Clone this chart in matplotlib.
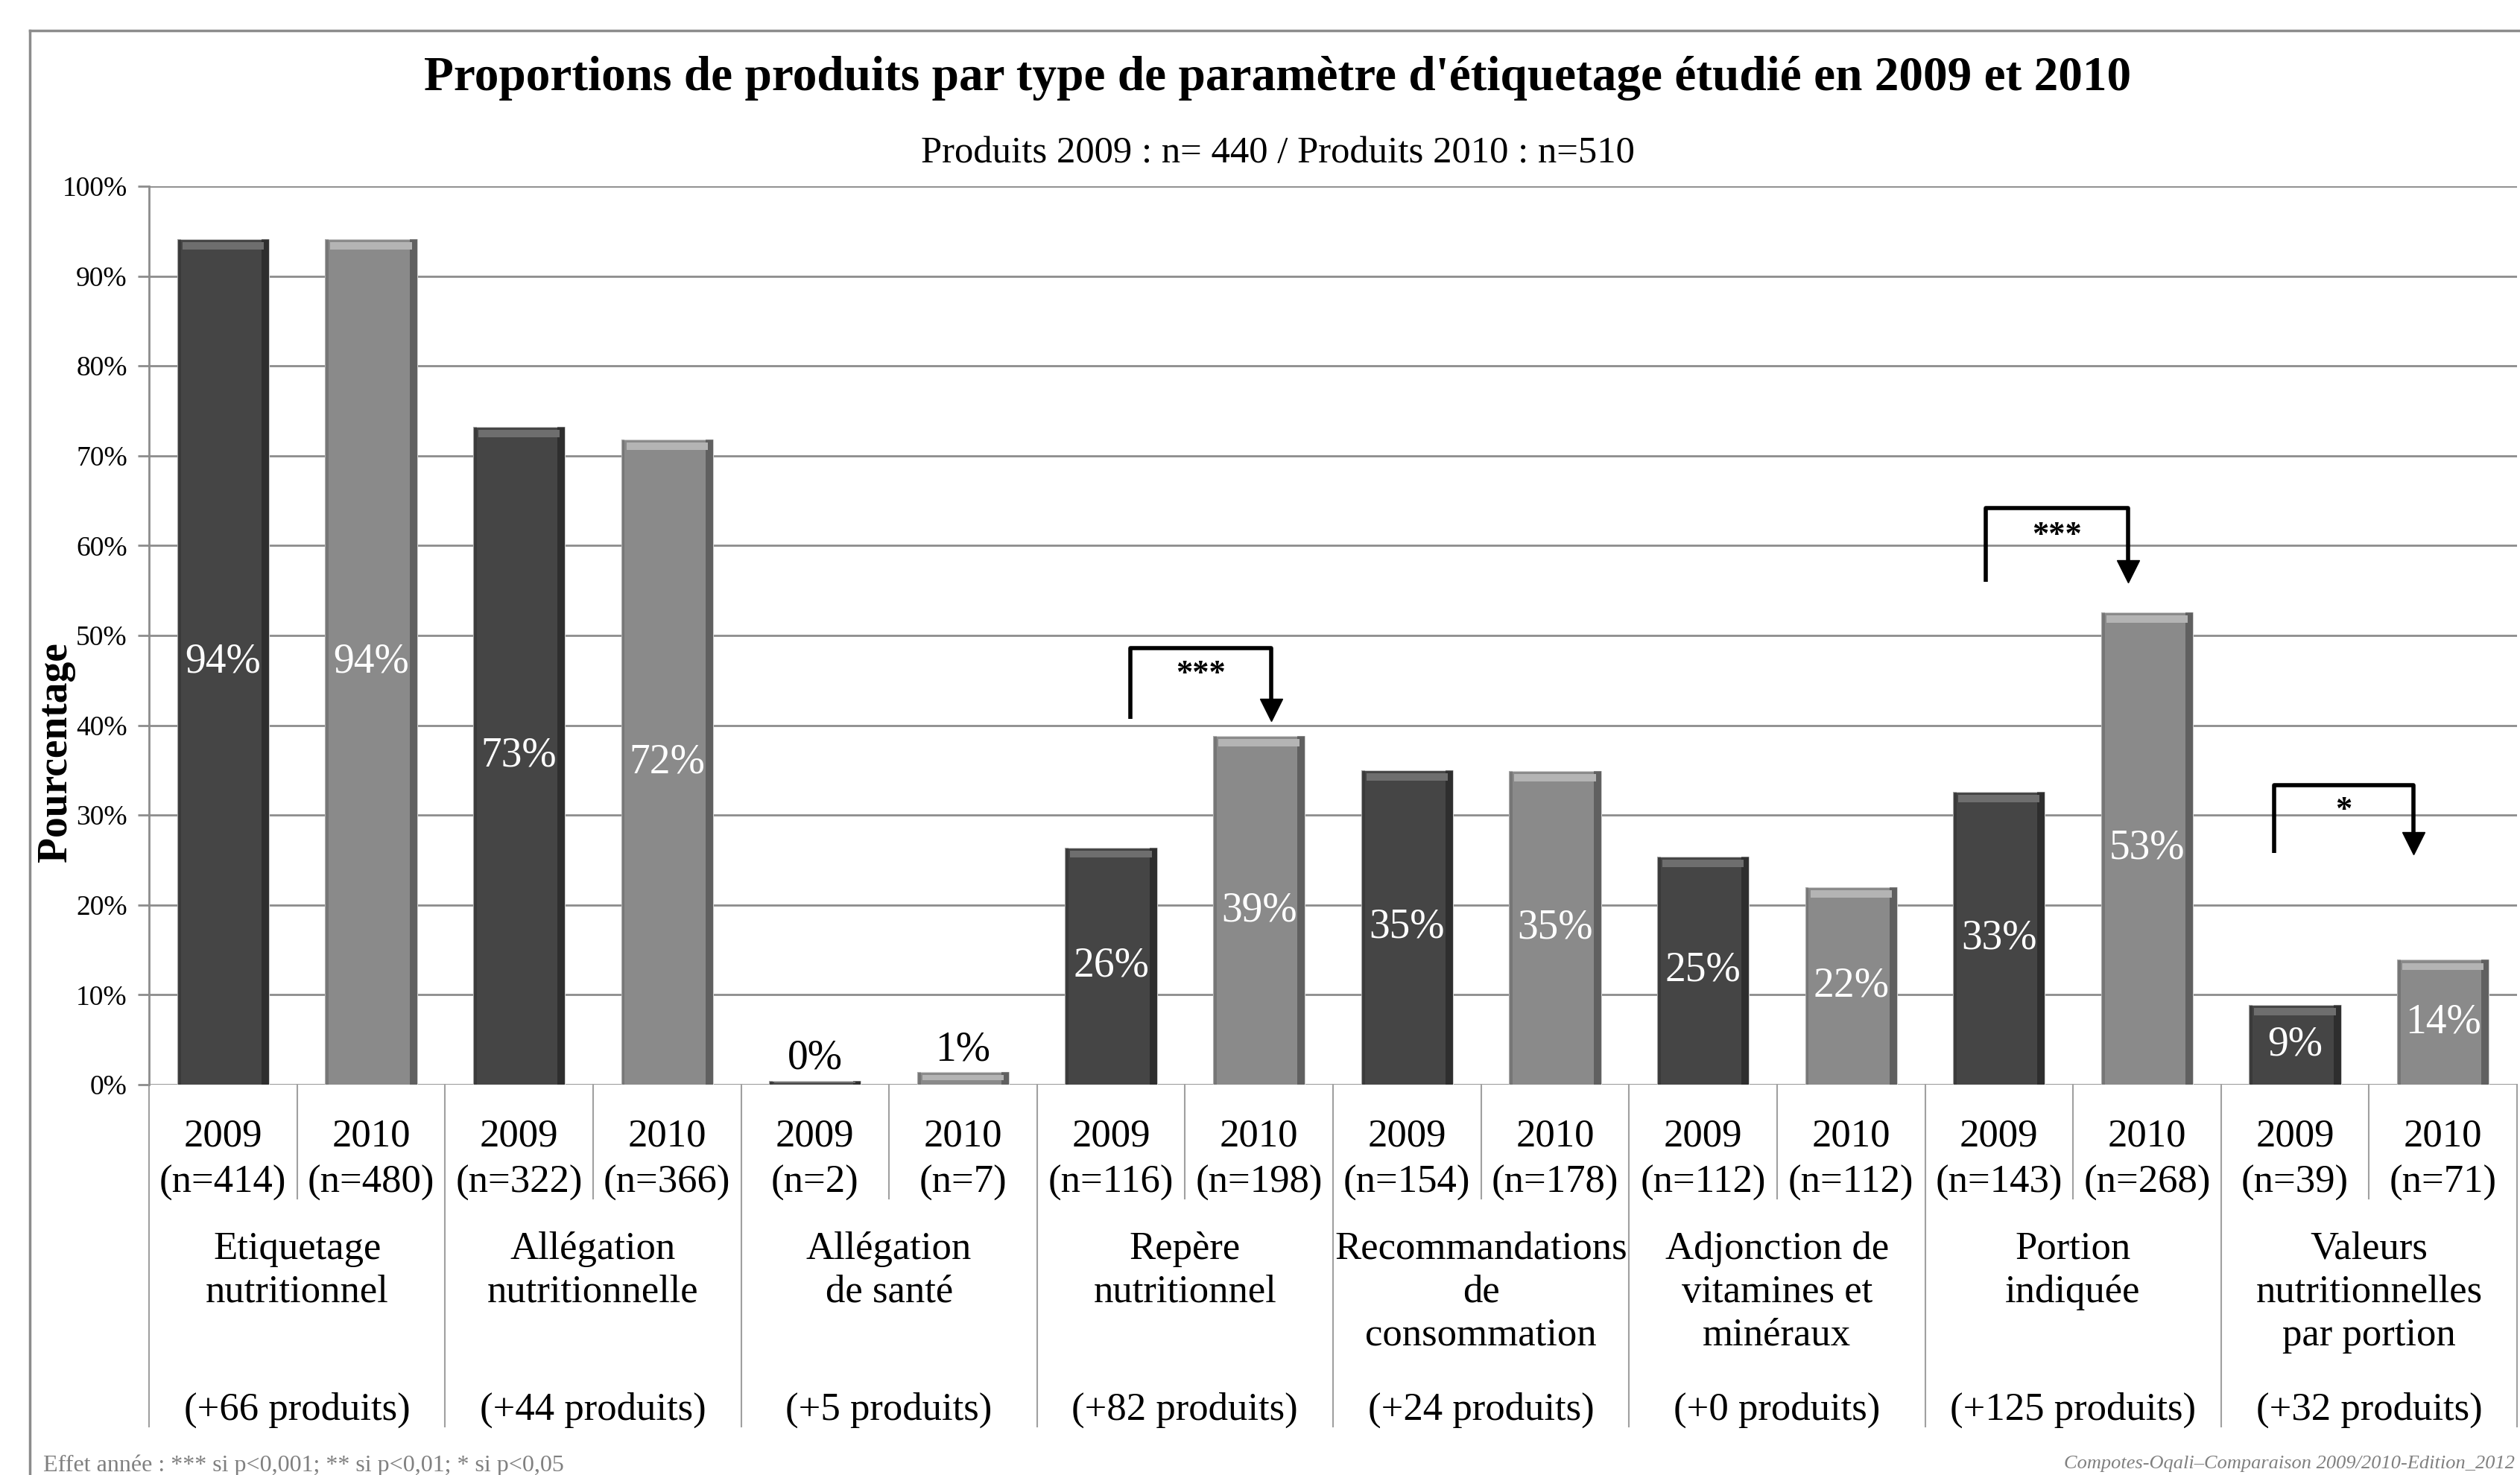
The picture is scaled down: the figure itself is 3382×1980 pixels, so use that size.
import numpy as np
import matplotlib.pyplot as plt
from matplotlib.lines import Line2D
import matplotlib.transforms as mtransforms

plt.rcParams['font.family'] = ['Liberation Serif', 'DejaVu Serif']

## Donnees
categories = ["Etiquetage\nnutritionnel", "Allégation\nnutritionnelle", "Allégation\nde santé",
              "Repère\nnutritionnel", "Recommandations\nde\nconsommation",
              "Adjonction de\nvitamines et\nminéraux", "Portion\nindiquée",
              "Valeurs\nnutritionnelles\npar portion"]
gains    = ["(+66 produits)", "(+44 produits)", "(+5 produits)", "(+82 produits)",
            "(+24 produits)", "(+0 produits)", "(+125 produits)", "(+32 produits)"]
n_2009   = [414, 322, 2, 116, 154, 112, 143, 39]
n_2010   = [480, 366, 7, 198, 178, 112, 268, 71]
pct_2009 = [94.1, 73.2, 0.45, 26.4, 35.0, 25.4, 32.6, 8.9]
pct_2010 = [94.1, 71.8, 1.37, 38.8, 34.9, 22.0, 52.6, 13.9]
years    = ["2009", "2010"]

## Effets annee significatifs (groupe, y depart, y haut, y fleche, etoiles)
sig_group = [3, 6, 7]
sig_start = [40.7, 56.0, 25.8]
sig_top   = [48.6, 64.2, 33.3]
sig_tip   = [40.8, 56.2, 26.0]
sig_dxl   = [0.13, -0.09, -0.14]
sig_dxr   = [0.08, -0.13, -0.20]
sig_stars = ["***", "***", "*"]

## Styles
col_main = {"2009": "#454545", "2010": "#8a8a8a"}
col_top  = {"2009": "#6e6e6e", "2010": "#b4b4b4"}
col_edge = {"2009": "#1c1c1c", "2010": "#3e3e3e"}
grid_col = "#8c8c8c"
W = 0.62

fig = plt.figure(figsize=(33.82, 19.8), dpi=100)
ax = fig.add_axes([200/3382, 1-1456/1980, 3178/3382, 1206/1980])

# barres entrelacees 2009 / 2010
values = []
labels_n = []
for g in range(len(categories)):
    values += [("2009", pct_2009[g]), ("2010", pct_2010[g])]
    labels_n += ["(n=%d)" % n_2009[g], "(n=%d)" % n_2010[g]]

for i, (yr, v) in enumerate(values):
    xc = i + 0.5
    ax.bar(xc, v, width=W, color=col_main[yr], edgecolor="#d0d0d0", linewidth=0.8, zorder=3)
    # biseau : bord droit sombre, bord gauche, reflet en haut
    ax.bar(xc + W/2 - 0.025, v, width=0.05, color=col_edge[yr], alpha=0.55, linewidth=0, zorder=4)
    ax.bar(xc - W/2 + 0.012, v, width=0.024, color=col_edge[yr], alpha=0.25, linewidth=0, zorder=4)
    th = min(0.8, v * 0.45)
    ax.bar(xc, th, bottom=v - th - min(0.35, v*0.2), width=W - 0.07, color=col_top[yr],
           linewidth=0, zorder=4)
    lab = "%d%%" % round(v)
    if v < 3:
        ax.text(xc, v + 0.3, lab, ha="center", va="bottom", fontsize=40, color="black", zorder=6)
    else:
        ax.text(xc, v/2, lab, ha="center", va="center", fontsize=40, color="white", zorder=6)

ax.set_xlim(0, len(values))
ax.set_ylim(0, 100)
ax.set_yticks(np.arange(0, 101, 10))
ax.set_yticklabels(["%d%%" % t for t in range(0, 101, 10)], fontsize=27)
ax.yaxis.grid(True, color=grid_col, linewidth=2.0, zorder=0)
ax.set_xticks([])
ax.tick_params(axis="y", length=11, width=2.0, color=grid_col, pad=10)
for s in ["top", "right", "bottom"]:
    ax.spines[s].set_visible(False)
ax.spines["left"].set_color(grid_col)
ax.spines["left"].set_linewidth(2.0)

# zone des categories
trans = mtransforms.blended_transform_factory(ax.transData, ax.transAxes)
for i in range(len(values) + 1):
    bottom = -0.381 if i % 2 == 0 else -0.127
    ax.plot([i, i], [0, bottom], color="#a0a0a0", linewidth=1.5, transform=trans, clip_on=False)
for i in range(len(values)):
    ax.text(i + 0.5, -0.0575, years[i % 2], transform=trans, ha="center", va="center", fontsize=38)
    ax.text(i + 0.5, -0.109, labels_n[i], transform=trans, ha="center", va="center", fontsize=38)
for g in range(len(categories)):
    ax.text(2*g + 1, -0.163, categories[g], transform=trans, ha="center", va="top",
            fontsize=38, linespacing=1.27)
    ax.text(2*g + 1, -0.3625, gains[g], transform=trans, ha="center", va="center", fontsize=38)

# crochets de significativite
for g, y0, yt, ya, dl, dr, st in zip(sig_group, sig_start, sig_top, sig_tip,
                                     sig_dxl, sig_dxr, sig_stars):
    xl = 2*g + 0.5 + dl
    xr = 2*g + 1.5 + dr
    ax.plot([xl, xl, xr, xr], [y0, yt, yt, ya + 1.6], color="black", linewidth=4,
            solid_joinstyle="round", solid_capstyle="butt", zorder=7, clip_on=False)
    ax.plot([xr], [ya + 0.9], marker="v", markersize=21, color="black", zorder=7, clip_on=False)
    ax.text((xl + xr)/2, (yt + y0)/2 + 1.0, st, ha="center", va="center",
            fontsize=32, fontweight="bold", zorder=7)

ax.set_ylabel("Pourcentage", fontsize=40, fontweight="bold")
ax.yaxis.set_label_coords(-0.031, 0.37)

fig.text(0.507, 0.947, "Proportions de produits par type de paramètre d'étiquetage étudié en 2009 et 2010",
         ha="center", va="center", fontsize=47, fontweight="bold")
fig.text(0.507, 0.896, "Produits 2009 : n= 440 / Produits 2010 : n=510",
         ha="center", va="center", fontsize=36.5)
fig.text(0.0171, 0.0066, "Effet année : *** si p<0,001; ** si p<0,01; * si p<0,05",
         ha="left", va="center", fontsize=23, color="#808080")
fig.text(0.998, 0.002, "Compotes-Oqali\u2013Comparaison 2009/2010-Edition_2012",
         ha="right", va="bottom", fontsize=19, style="italic", color="#808080")

# cadre exterieur
fig.add_artist(Line2D([40/3382, 40/3382], [0, 1-41/1980], color="#8c8c8c", linewidth=2.5))
fig.add_artist(Line2D([40/3382, 1], [1-41/1980, 1-41/1980], color="#8c8c8c", linewidth=2.5))

fig.savefig("out.png", dpi=100)
